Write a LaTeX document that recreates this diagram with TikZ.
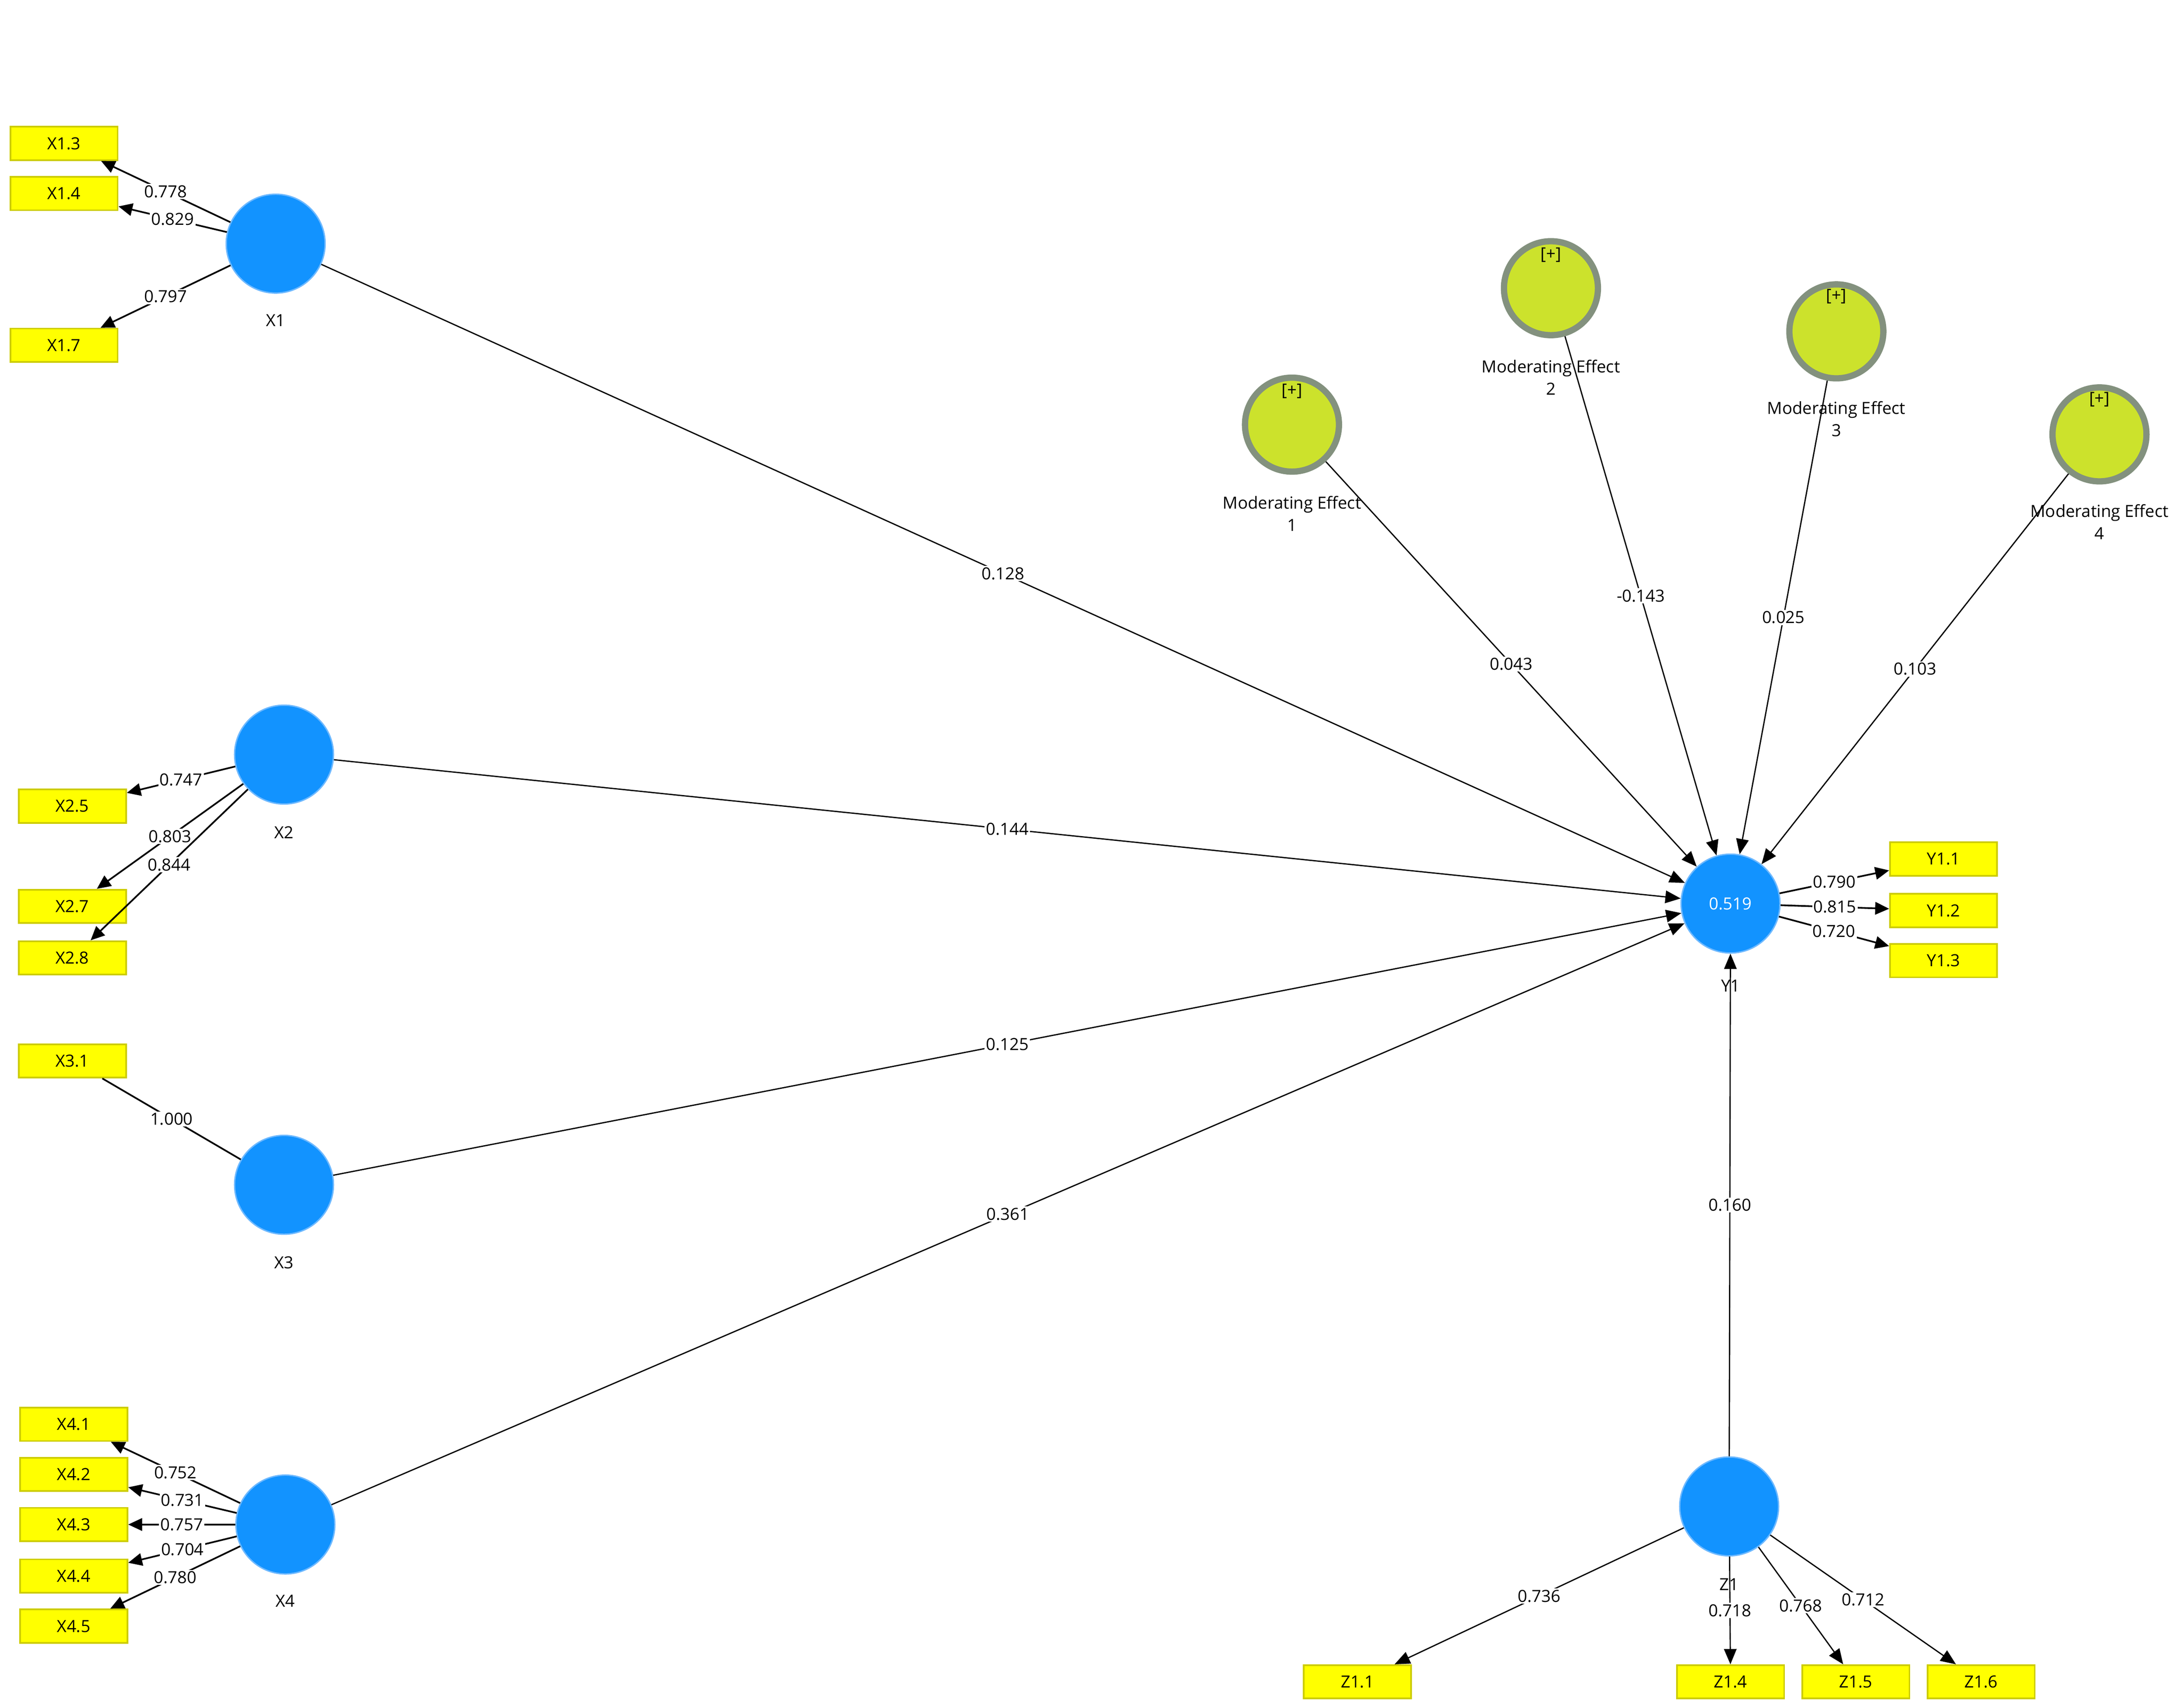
\documentclass[tikz,border=0pt]{standalone}
\usepackage{fontspec}
\setmainfont{Open Sans}
\usetikzlibrary{arrows.meta}

\definecolor{lvblue}{RGB}{18,147,255}
\definecolor{lvrim}{RGB}{110,185,255}
\definecolor{modfill}{RGB}{204,226,44}
\definecolor{modrim}{RGB}{131,145,126}
\definecolor{mvfill}{RGB}{255,255,0}
\definecolor{mvrim}{RGB}{204,204,0}

\begin{document}
\begin{tikzpicture}[x=1pt, y=-1pt, font=\fontsize{12}{16}\selectfont,
  latent/.style={draw=lvrim, fill=lvblue, circle, line width=1pt, minimum size=71pt, inner sep=0pt},
  moder/.style={draw=modrim, fill=modfill, circle, line width=4.5pt, minimum size=67.5pt, inner sep=0pt},
  item/.style={draw=mvrim, fill=mvfill, line width=1.2pt, minimum width=77pt, minimum height=24pt, inner sep=0pt},
  load/.style={line width=1.2pt, -{Triangle[length=10pt,width=9pt]}},
  struct/.style={line width=0.9pt, -{Triangle[length=11pt,width=9pt]}},
  wt/.style={fill=white, inner sep=1pt}]
\useasboundingbox (0,0) rectangle (1568,1226.7);

% latent variables
\node [latent] (X1) at (198,175) {};
\node [latent] (X2) at (204,542) {};
\node [latent] (X3) at (204,851) {};
\node [latent] (X4) at (205,1095) {};
\node [latent, text=white] (Y1) at (1243,649) {0.519};
\node [latent] (Z1) at (1242,1082) {};
\node (X1name) at (198,230) {X1};
\node (X2name) at (204,598) {X2};
\node (X3name) at (204,907) {X3};
\node (X4name) at (205,1150) {X4};
\node (Y1name) at (1243,708) {Y1};
\node (Z1name) at (1242,1138) {Z1};

% moderating effects
\node [moder] (M1) at (928,305) {};
\node [moder] (M2) at (1114,207) {};
\node [moder] (M3) at (1319,238) {};
\node [moder] (M4) at (1508,312) {};
\node (M1plus) at (928,281) {[+]};
\node (M2plus) at (1114,183) {[+]};
\node (M3plus) at (1319,213) {[+]};
\node (M4plus) at (1508,287) {[+]};
\node [align=center] (M1name) at (928,369) {Moderating Effect\\1};
\node [align=center] (M2name) at (1114,271) {Moderating Effect\\2};
\node [align=center] (M3name) at (1319,301) {Moderating Effect\\3};
\node [align=center] (M4name) at (1508,375) {Moderating Effect\\4};

% indicators
\node [item] (X13) at (46,103) {X1.3};
\node [item] (X14) at (46,139) {X1.4};
\node [item] (X17) at (46,248) {X1.7};
\node [item] (X25) at (52,579) {X2.5};
\node [item] (X27) at (52,651) {X2.7};
\node [item] (X28) at (52,688) {X2.8};
\node [item] (X31) at (52,762) {X3.1};
\node [item] (X41) at (53,1023) {X4.1};
\node [item] (X42) at (53,1059) {X4.2};
\node [item] (X43) at (53,1095) {X4.3};
\node [item] (X44) at (53,1132) {X4.4};
\node [item] (X45) at (53,1168) {X4.5};
\node [item] (Y11) at (1396,617) {Y1.1};
\node [item] (Y12) at (1396,654) {Y1.2};
\node [item] (Y13) at (1396,690) {Y1.3};
\node [item] (Z11) at (975,1208) {Z1.1};
\node [item] (Z14) at (1243,1208) {Z1.4};
\node [item] (Z15) at (1333,1208) {Z1.5};
\node [item] (Z16) at (1423,1208) {Z1.6};

% outer loadings
\draw [load] (X1) -- node [wt] {0.778} (X13);
\draw [load] (X1) -- node [wt] {0.829} (X14);
\draw [load] (X1) -- node [wt] {0.797} (X17);
\draw [load] (X2) -- node [wt] {0.747} (X25);
\draw [load] (X2) -- node [wt] {0.803} (X27);
\draw [load] (X2) -- node [wt] {0.844} (X28);
\draw [line width=1.2pt] (X31) -- node [wt] {1.000} (X3);
\draw [load] (X4) -- node [wt] {0.752} (X41);
\draw [load] (X4) -- node [wt] {0.731} (X42);
\draw [load] (X4) -- node [wt] {0.757} (X43);
\draw [load] (X4) -- node [wt] {0.704} (X44);
\draw [load] (X4) -- node [wt] {0.780} (X45);
\draw [load] (Y1) -- node [wt] {0.790} (Y11);
\draw [load] (Y1) -- node [wt] {0.815} (Y12);
\draw [load] (Y1) -- node [wt] {0.720} (Y13);
\draw [struct] (Z1) -- node [wt] {0.736} (Z11);
\draw [struct] (Z1) -- node [wt] {0.718} (Z14);
\draw [struct] (Z1) -- node [wt] {0.768} (Z15);
\draw [struct] (Z1) -- node [wt] {0.712} (Z16);

% path coefficients
\draw [struct] (X1) -- node [wt] {0.128} (Y1);
\draw [struct] (X2) -- node [wt] {0.144} (Y1);
\draw [struct] (X3) -- node [wt] {0.125} (Y1);
\draw [struct] (X4) -- node [wt] {0.361} (Y1);
\draw [struct] (M1) -- node [wt] {0.043} (Y1);
\draw [struct] (M2) -- node [wt] {-0.143} (Y1);
\draw [struct] (M3) -- node [wt] {0.025} (Y1);
\draw [struct] (M4) -- node [wt] {0.103} (Y1);
\draw [struct] (Z1) -- node [wt] {0.160} (Y1);
\end{tikzpicture}
\end{document}
